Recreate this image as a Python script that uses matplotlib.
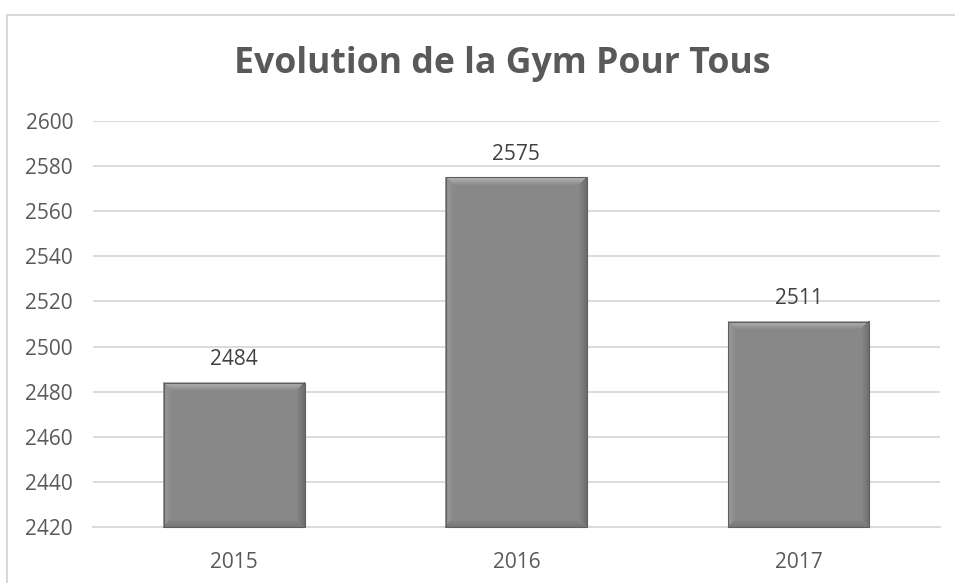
import matplotlib
matplotlib.use("Agg")
import matplotlib.pyplot as plt
from matplotlib.patches import Rectangle, Polygon
from matplotlib.colors import to_rgb

# --- Données ---
annees = ["2015", "2016", "2017"]
effectifs = [2484, 2575, 2511]
ticks_y = [2420, 2440, 2460, 2480, 2500, 2520, 2540, 2560, 2580, 2600]

GRIS_TEXTE = "#595959"
GRIS_GRILLE = "#d9d9d9"
FACE = "#888888"

plt.rcParams["font.family"] = ["Open Sans", "DejaVu Sans"]

fig = plt.figure(figsize=(9.55, 5.83), dpi=100)
fig.patch.set_facecolor("white")

# cadre du graphique
fig.patches.append(Rectangle((0.0073, -0.1), 1.2, 0.1 + 0.974, transform=fig.transFigure,
                             fill=False, edgecolor=GRIS_GRILLE, linewidth=1.5))

ax = fig.add_axes([0.0974, 0.096, 0.8866, 0.6965])
x = range(len(annees))
bars = ax.bar(x, effectifs, width=0.5, color=FACE, edgecolor="none", zorder=3)

ax.set_ylim(ticks_y[0], ticks_y[-1])
ax.set_xlim(-0.5, len(annees) - 0.5)
ax.set_yticks(ticks_y)
ax.set_xticks(list(x))
ax.set_xticklabels(annees)
ax.yaxis.grid(True, color=GRIS_GRILLE, linewidth=1.3, zorder=0)
ax.set_axisbelow(True)
for s in ["top", "right", "left"]:
    ax.spines[s].set_visible(False)
ax.spines["bottom"].set_color(GRIS_GRILLE)
ax.spines["bottom"].set_linewidth(1.3)
ax.tick_params(axis="y", length=0, pad=14.4, labelsize=15, labelcolor=GRIS_TEXTE)
ax.tick_params(axis="x", length=0, pad=18, labelsize=15, labelcolor=GRIS_TEXTE)

# étiquettes de valeurs
for xi, v in zip(x, effectifs):
    ax.annotate(str(v), (xi, v), xytext=(0, 9), textcoords="offset points",
                ha="center", va="bottom", fontsize=15, color="#404040")


def melange(c1, c2, t):
    a, b_ = to_rgb(c1), to_rgb(c2)
    return tuple(a[i] + (b_[i] - a[i]) * t for i in range(3))


# effet biseauté (dégradé) sur les barres
fig.canvas.draw()
b = 9  # pixels
bords = {"haut": "#b4b4b4", "gauche": "#9a9a9a", "droite": "#6c6c6c", "bas": "#747474"}
for bar in bars:
    x0, y0 = ax.transData.transform((bar.get_x(), ticks_y[0]))
    x1, y1 = ax.transData.transform((bar.get_x() + bar.get_width(), bar.get_height()))
    for k in range(b):
        t = k / (b - 1)
        i, j = k, k + 1
        faces = [
            ([(x0 + i, y1 - i), (x1 - i, y1 - i), (x1 - j, y1 - j), (x0 + j, y1 - j)], "haut"),
            ([(x0 + i, y0 + i), (x0 + i, y1 - i), (x0 + j, y1 - j), (x0 + j, y0 + j)], "gauche"),
            ([(x1 - i, y0 + i), (x1 - i, y1 - i), (x1 - j, y1 - j), (x1 - j, y0 + j)], "droite"),
            ([(x0 + i, y0 + i), (x1 - i, y0 + i), (x1 - j, y0 + j), (x0 + j, y0 + j)], "bas"),
        ]
        for pts, cote in faces:
            fig.patches.append(Polygon(pts, closed=True, transform=None,
                                       facecolor=melange(bords[cote], FACE, t),
                                       edgecolor="none", antialiased=False, zorder=4))
    fig.patches.append(Rectangle((x0, y0), x1 - x0, y1 - y0, transform=None, fill=False,
                                 edgecolor="#5f5f5f", linewidth=0.8, zorder=5))

fig.text(0.526, 0.89, "Evolution de la Gym Pour Tous", ha="center", va="center",
         fontsize=25.7, fontweight="bold", color=GRIS_TEXTE)

fig.savefig("out.png", dpi=100)
